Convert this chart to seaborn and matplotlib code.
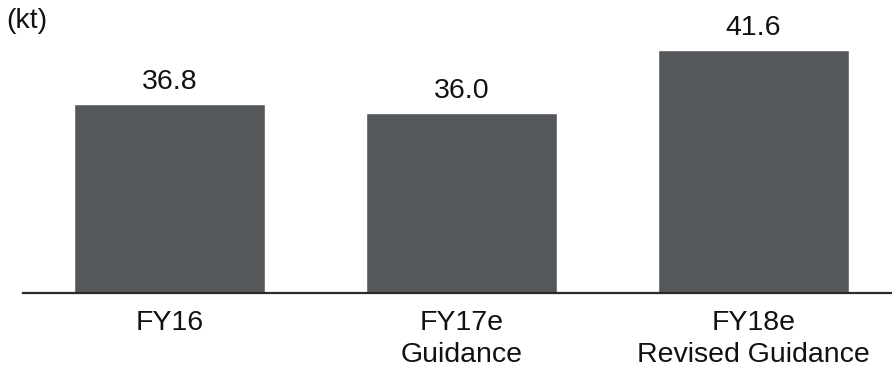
import matplotlib
matplotlib.use("Agg")
import matplotlib.pyplot as plt
import seaborn as sns
import pandas as pd

categories = ["FY16", "FY17e\nGuidance", "FY18e\nRevised Guidance"]
values = [36.8, 36.0, 41.6]
value_labels = ["36.8", "36.0", "41.6"]
unit_label = "(kt)"

sns.set_theme(style="white")
plt.rcParams["font.family"] = ["Liberation Sans", "DejaVu Sans"]

bar_color = "#55585b"
text_color = "#111111"
font_size = 20.5
df = pd.DataFrame({"period": categories, "volume": values})

fig = plt.figure(figsize=(8.92, 3.72), dpi=100)
ax = fig.add_axes([23 / 892, 79.5 / 372, 869 / 892, 292.5 / 372])

sns.barplot(data=df, x="period", y="volume", color=bar_color,
            saturation=1, width=0.654, ax=ax)

ax.set_ylim(20, 46)
ax.set_xlim(-0.5017, 2.474)

for i, (v, lab) in enumerate(zip(values, value_labels)):
    ax.annotate(lab, (i, v), xytext=(0, 6), textcoords="offset points",
                ha="center", va="bottom", fontsize=font_size, color=text_color)

ax.set_xlabel("")
ax.set_ylabel("")
ax.set_yticks([])
ax.tick_params(axis="x", length=0, pad=12.5, labelsize=font_size,
               labelcolor=text_color)
for t in ax.get_xticklabels():
    t.set_linespacing(1.3)

for side in ["top", "right", "left"]:
    ax.spines[side].set_visible(False)
ax.spines["bottom"].set_color("#2b2b2b")
ax.spines["bottom"].set_linewidth(1.6)

fig.text(6 / 892, 1 - 21 / 372, unit_label, ha="left", va="center",
         fontsize=font_size, color=text_color)

fig.savefig("out.png", dpi=100)
